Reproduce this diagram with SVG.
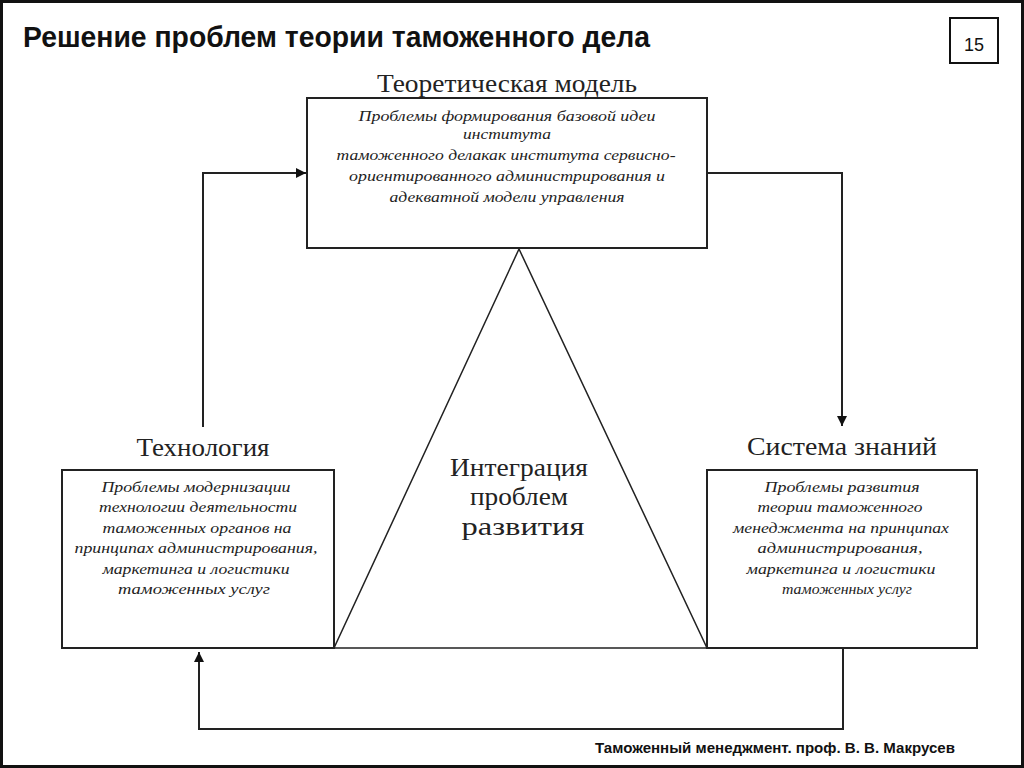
<svg xmlns="http://www.w3.org/2000/svg" width="1024" height="768" viewBox="0 0 1024 768">
<defs>
<style>
.frame{fill:#fff;stroke:#111;stroke-width:3}
.box{fill:#fff;stroke:#222;stroke-width:2}
.tri{fill:none;stroke:#222;stroke-width:1.5}
.conn{fill:none;stroke:#222;stroke-width:2}
.title{font-family:"Liberation Sans",Arial,sans-serif;font-weight:bold;font-size:30px;fill:#111}
.foot{font-family:"Liberation Sans",Arial,sans-serif;font-weight:bold;font-size:15px;fill:#111}
.num{font-family:"Liberation Sans",Arial,sans-serif;font-size:18px;fill:#111}
.lbl{font-family:"Liberation Serif","Times New Roman",serif;font-size:25px;fill:#222;text-anchor:middle}
.it{font-family:"Liberation Serif","Times New Roman",serif;font-style:italic;font-size:14.5px;fill:#222;text-anchor:middle}
</style>
<marker id="ah" viewBox="0 0 10 10" refX="10" refY="5" markerWidth="10" markerHeight="10" markerUnits="userSpaceOnUse" orient="auto">
<path d="M0,0 L10,5 L0,10 z" fill="#111"/>
</marker>
</defs>
<rect class="frame" x="1.5" y="1.5" width="1021" height="765"/>
<g id="header">
<text class="title" x="23" y="47" textLength="627" lengthAdjust="spacingAndGlyphs">Решение проблем теории таможенного дела</text>
<rect x="950" y="18" width="48" height="45" fill="#fff" stroke="#111" stroke-width="2"/>
<text class="num" x="974" y="51" text-anchor="middle">15</text>
</g>
<g id="connectors">
<polyline class="conn" points="203,427 203,173 306,173" marker-end="url(#ah)"/>
<polyline class="conn" points="707,173 842,173 842,426" marker-end="url(#ah)"/>
<polyline class="conn" points="843,648 843,729 199,729 199,652" marker-end="url(#ah)"/>
</g>
<g id="integration">
<polygon class="tri" points="519,249 334,648 707,648"/>
<text class="lbl" x="519" y="476" textLength="138" lengthAdjust="spacingAndGlyphs">Интеграция</text>
<text class="lbl" x="519" y="505" textLength="98" lengthAdjust="spacingAndGlyphs">проблем</text>
<text class="lbl" x="523" y="535" textLength="123" lengthAdjust="spacingAndGlyphs">развития</text>
</g>
<g id="theory">
<text class="lbl" x="507" y="92" textLength="260" lengthAdjust="spacingAndGlyphs">Теоретическая модель</text>
<rect class="box" x="307" y="98" width="400" height="150"/>
<text class="it" x="507" y="121" textLength="297" lengthAdjust="spacingAndGlyphs">Проблемы формирования базовой идеи</text>
<text class="it" x="507" y="139" textLength="88" lengthAdjust="spacingAndGlyphs">института</text>
<text class="it" x="506" y="160" textLength="339" lengthAdjust="spacingAndGlyphs">таможенного  делакак института сервисно-</text>
<text class="it" x="507" y="181" textLength="316" lengthAdjust="spacingAndGlyphs">ориентированного администрирования  и</text>
<text class="it" x="507" y="202" textLength="235" lengthAdjust="spacingAndGlyphs">адекватной модели управления</text>
</g>
<g id="technology">
<text class="lbl" x="203" y="456" textLength="133" lengthAdjust="spacingAndGlyphs">Технология</text>
<rect class="box" x="62" y="470" width="272" height="178"/>
<text class="it" x="196" y="492" textLength="189" lengthAdjust="spacingAndGlyphs">Проблемы модернизации</text>
<text class="it" x="198" y="512" textLength="198" lengthAdjust="spacingAndGlyphs">технологии деятельности</text>
<text class="it" x="197" y="533" textLength="189" lengthAdjust="spacingAndGlyphs">таможенных  органов на</text>
<text class="it" x="196" y="553" textLength="243" lengthAdjust="spacingAndGlyphs">принципах администрирования,</text>
<text class="it" x="196" y="574" textLength="187" lengthAdjust="spacingAndGlyphs">маркетинга  и логистики</text>
<text class="it" x="194" y="594" textLength="152" lengthAdjust="spacingAndGlyphs">таможенных услуг</text>
</g>
<g id="knowledge">
<text class="lbl" x="842" y="455" textLength="190" lengthAdjust="spacingAndGlyphs">Система знаний</text>
<rect class="box" x="707" y="470" width="270" height="178"/>
<text class="it" x="842" y="492" textLength="155" lengthAdjust="spacingAndGlyphs">Проблемы развития</text>
<text class="it" x="840" y="512" textLength="165" lengthAdjust="spacingAndGlyphs">теории таможенного</text>
<text class="it" x="841" y="533" textLength="216" lengthAdjust="spacingAndGlyphs">менеджмента  на принципах</text>
<text class="it" x="840" y="553" textLength="165" lengthAdjust="spacingAndGlyphs">администрирования,</text>
<text class="it" x="841" y="574" textLength="189" lengthAdjust="spacingAndGlyphs">маркетинга  и логистики</text>
<text class="it" x="847" y="594" textLength="130" lengthAdjust="spacingAndGlyphs">таможенных  услуг</text>
</g>
<g id="footer">
<text class="foot" x="595" y="753" textLength="360" lengthAdjust="spacingAndGlyphs">Таможенный менеджмент. проф. В. В. Макрусев</text>
</g>
</svg>
